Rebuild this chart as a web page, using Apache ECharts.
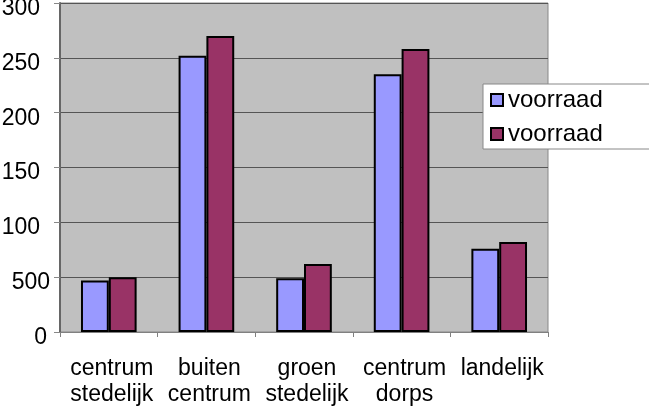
<!DOCTYPE html>
<html>
<head>
<meta charset="utf-8">
<script src="https://cdn.jsdelivr.net/npm/echarts@6/dist/echarts.min.js"></script>
<style>html,body{margin:0;padding:0;background:#fff;}#c{width:649px;height:408px;}</style>
</head>
<body>
<div id="c"></div>
<script>
var categories = ["centrum\nstedelijk", "buiten\ncentrum", "groen\nstedelijk", "centrum\ndorps", "landelijk"];
var seriesNames = ["voorraad", "voorraad"];
var series1 = [47, 252, 49, 235, 76];
var series2 = [50, 270, 62, 258, 82];
var yTickLabels = ["0", "500", "100", "150", "200", "250", "300"];

var chart = echarts.init(document.getElementById('c'), null, {renderer: 'canvas'});
var font = 'Liberation Sans, Arial, sans-serif';
chart.setOption({
  animation: false,
  backgroundColor: '#ffffff',
  textStyle: {fontFamily: font},
  grid: {left: 60, right: 101, top: 3, bottom: 76, show: true, backgroundColor: '#c0c0c0', borderColor: '#888888', borderWidth: 1, containLabel: false, outerBoundsMode: 'none'},
  legend: {
    orient: 'vertical', left: 483, top: 84, width: 170,
    backgroundColor: '#ffffff', borderColor: '#888888', borderWidth: 1,
    padding: [1, 60, 0, 7], itemGap: 4, itemWidth: 12, itemHeight: 12, icon: 'rect',
    textStyle: {fontFamily: font, fontSize: 24, color: '#000', lineHeight: 14, padding: [16, 0, 0, 0]},
    data: [{name: 'a'}, {name: 'b'}],
    formatter: function (n) { return n === 'a' ? seriesNames[0] : seriesNames[1]; }
  },
  xAxis: {
    type: 'category', data: categories,
    axisLine: {lineStyle: {color: '#808080', width: 1}},
    axisTick: {show: true, length: 5, lineStyle: {color: '#808080'}},
    axisLabel: {fontFamily: font, fontSize: 23, color: '#000', lineHeight: 26, margin: 24, interval: 0, padding: [0, 0, 0, 6]}
  },
  yAxis: {
    type: 'value', min: 0, max: 300, interval: 50,
    axisLine: {show: true, lineStyle: {color: '#666666', width: 2}},
    axisTick: {show: true, length: 6, lineStyle: {color: '#888888'}},
    splitLine: {lineStyle: {color: '#555555', width: 1}},
    axisLabel: {
      margin: 8, color: '#000',
      formatter: function (v) {
        var i = Math.round(v / 50);
        var t = yTickLabels[i];
        if (i === 0) return '{z|' + t + '}';
        if (i === 1) return '{f|' + t + '}';
        return '{n|' + t + '}';
      },
      rich: {
        n: {fontFamily: font, fontSize: 23, color: '#000', padding: [11, 12, 0, 0]},
        z: {fontFamily: font, fontSize: 23, color: '#000', padding: [11, 5, 0, 0]},
        f: {fontFamily: font, fontSize: 23, color: '#000', padding: [11, 2, 0, 0]}
      }
    }
  },
  series: [
    {name: 'a', type: 'bar', data: series1, barGap: '0%', barCategoryGap: '43%',
     itemStyle: {color: '#9999ff', borderColor: '#000', borderWidth: 2}},
    {name: 'b', type: 'bar', data: series2,
     itemStyle: {color: '#993366', borderColor: '#000', borderWidth: 2}}
  ]
});
</script>
</body>
</html>
